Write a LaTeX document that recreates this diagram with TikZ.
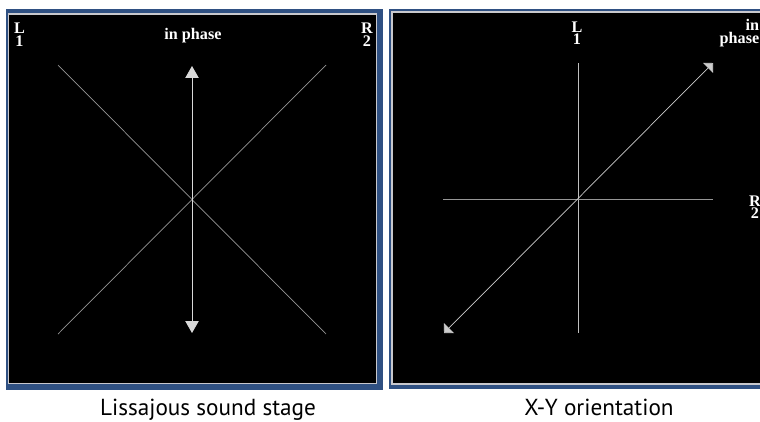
\documentclass[tikz,border=0pt]{standalone}
\usepackage{fontspec}
\setmainfont{Liberation Serif}
\newfontfamily\capfont{PT Sans}
\usepackage{xcolor}
\definecolor{marcoAzul}{RGB}{47,80,130}
\definecolor{marcoGris}{RGB}{200,200,205}
\definecolor{trazo}{RGB}{150,150,150}
\usepackage{tikz}
\usetikzlibrary{arrows.meta, positioning}

\begin{document}
\begin{tikzpicture}[x=0.025cm, y=-0.025cm,
  lbl/.style={text=white, font=\fontsize{11.5}{11}\selectfont\bfseries, inner sep=0pt, anchor=base, text height=7.5pt, text depth=0pt},
  leyenda/.style={font=\capfont\fontsize{16.5}{18}\selectfont, inner sep=0pt, anchor=base},
  traza/.style={draw=trazo, line width=0.5pt},
  flecha/.style={draw=white!85!black, line width=0.6pt, {Triangle[length=8.5pt, width=9.5pt]}-{Triangle[length=8.5pt, width=9.5pt]}},
  flechaxy/.style={draw=white!80!black, line width=0.5pt, {Triangle[length=5pt, width=10pt]}-{Triangle[length=5pt, width=10pt]}}
]
\useasboundingbox (0,0) rectangle (760,421);

% Panel 1: Lissajous
\fill[marcoAzul] (6,9) rectangle (383,390);
\fill[marcoGris] (7.5,13) rectangle (377,384);
\fill[black] (8.5,14.5) rectangle (375.5,382.5);

\coordinate (ls-tl) at (58,65);
\coordinate (ls-tr) at (326,65);
\coordinate (ls-bl) at (58,334);
\coordinate (ls-br) at (326,334);
\coordinate (ls-top) at (192,66);
\coordinate (ls-bot) at (192,333);

\draw[traza] (ls-tl) -- (ls-br);
\draw[traza] (ls-tr) -- (ls-bl);
\draw[flecha] (ls-bot) -- (ls-top);

\node[lbl] (ls-l) at (19.5,33) {L};
\node[lbl] (ls-1) at (19.5,46) {1};
\node[lbl] (ls-r) at (367,33) {R};
\node[lbl] (ls-2) at (367,46) {2};
\node[lbl] (ls-fase) at (193,39.5) {in phase};
\node[leyenda] (ls-cap) at (208,415) {Lissajous sound stage};

% Panel 2: X-Y
\fill[marcoAzul] (389,9) rectangle (770,389);
\fill[marcoGris] (391,11) rectangle (770,385);
\fill[black] (392.5,12.5) rectangle (770,383);

\coordinate (xy-top) at (578,63);
\coordinate (xy-bot) at (578,333);
\coordinate (xy-izq) at (443,199);
\coordinate (xy-der) at (713,199);
\coordinate (xy-ne) at (713,63);
\coordinate (xy-sw) at (444,333);

\draw[traza, draw=white!75!black] (xy-top) -- (xy-bot);
\draw[traza] (xy-izq) -- (xy-der);
\draw[flechaxy] (xy-sw) -- (xy-ne);

\node[lbl] (xy-l) at (577,32) {L};
\node[lbl] (xy-1) at (577,44) {1};
\node[lbl] (xy-r) at (755,206) {R};
\node[lbl] (xy-2) at (755,218) {2};
\node[lbl, anchor=base east] (xy-in) at (759.5,30) {in};
\node[lbl, anchor=base east] (xy-fase) at (759.5,43) {phase};
\node[leyenda] (xy-cap) at (599,415) {X-Y orientation};

\end{tikzpicture}
\end{document}
